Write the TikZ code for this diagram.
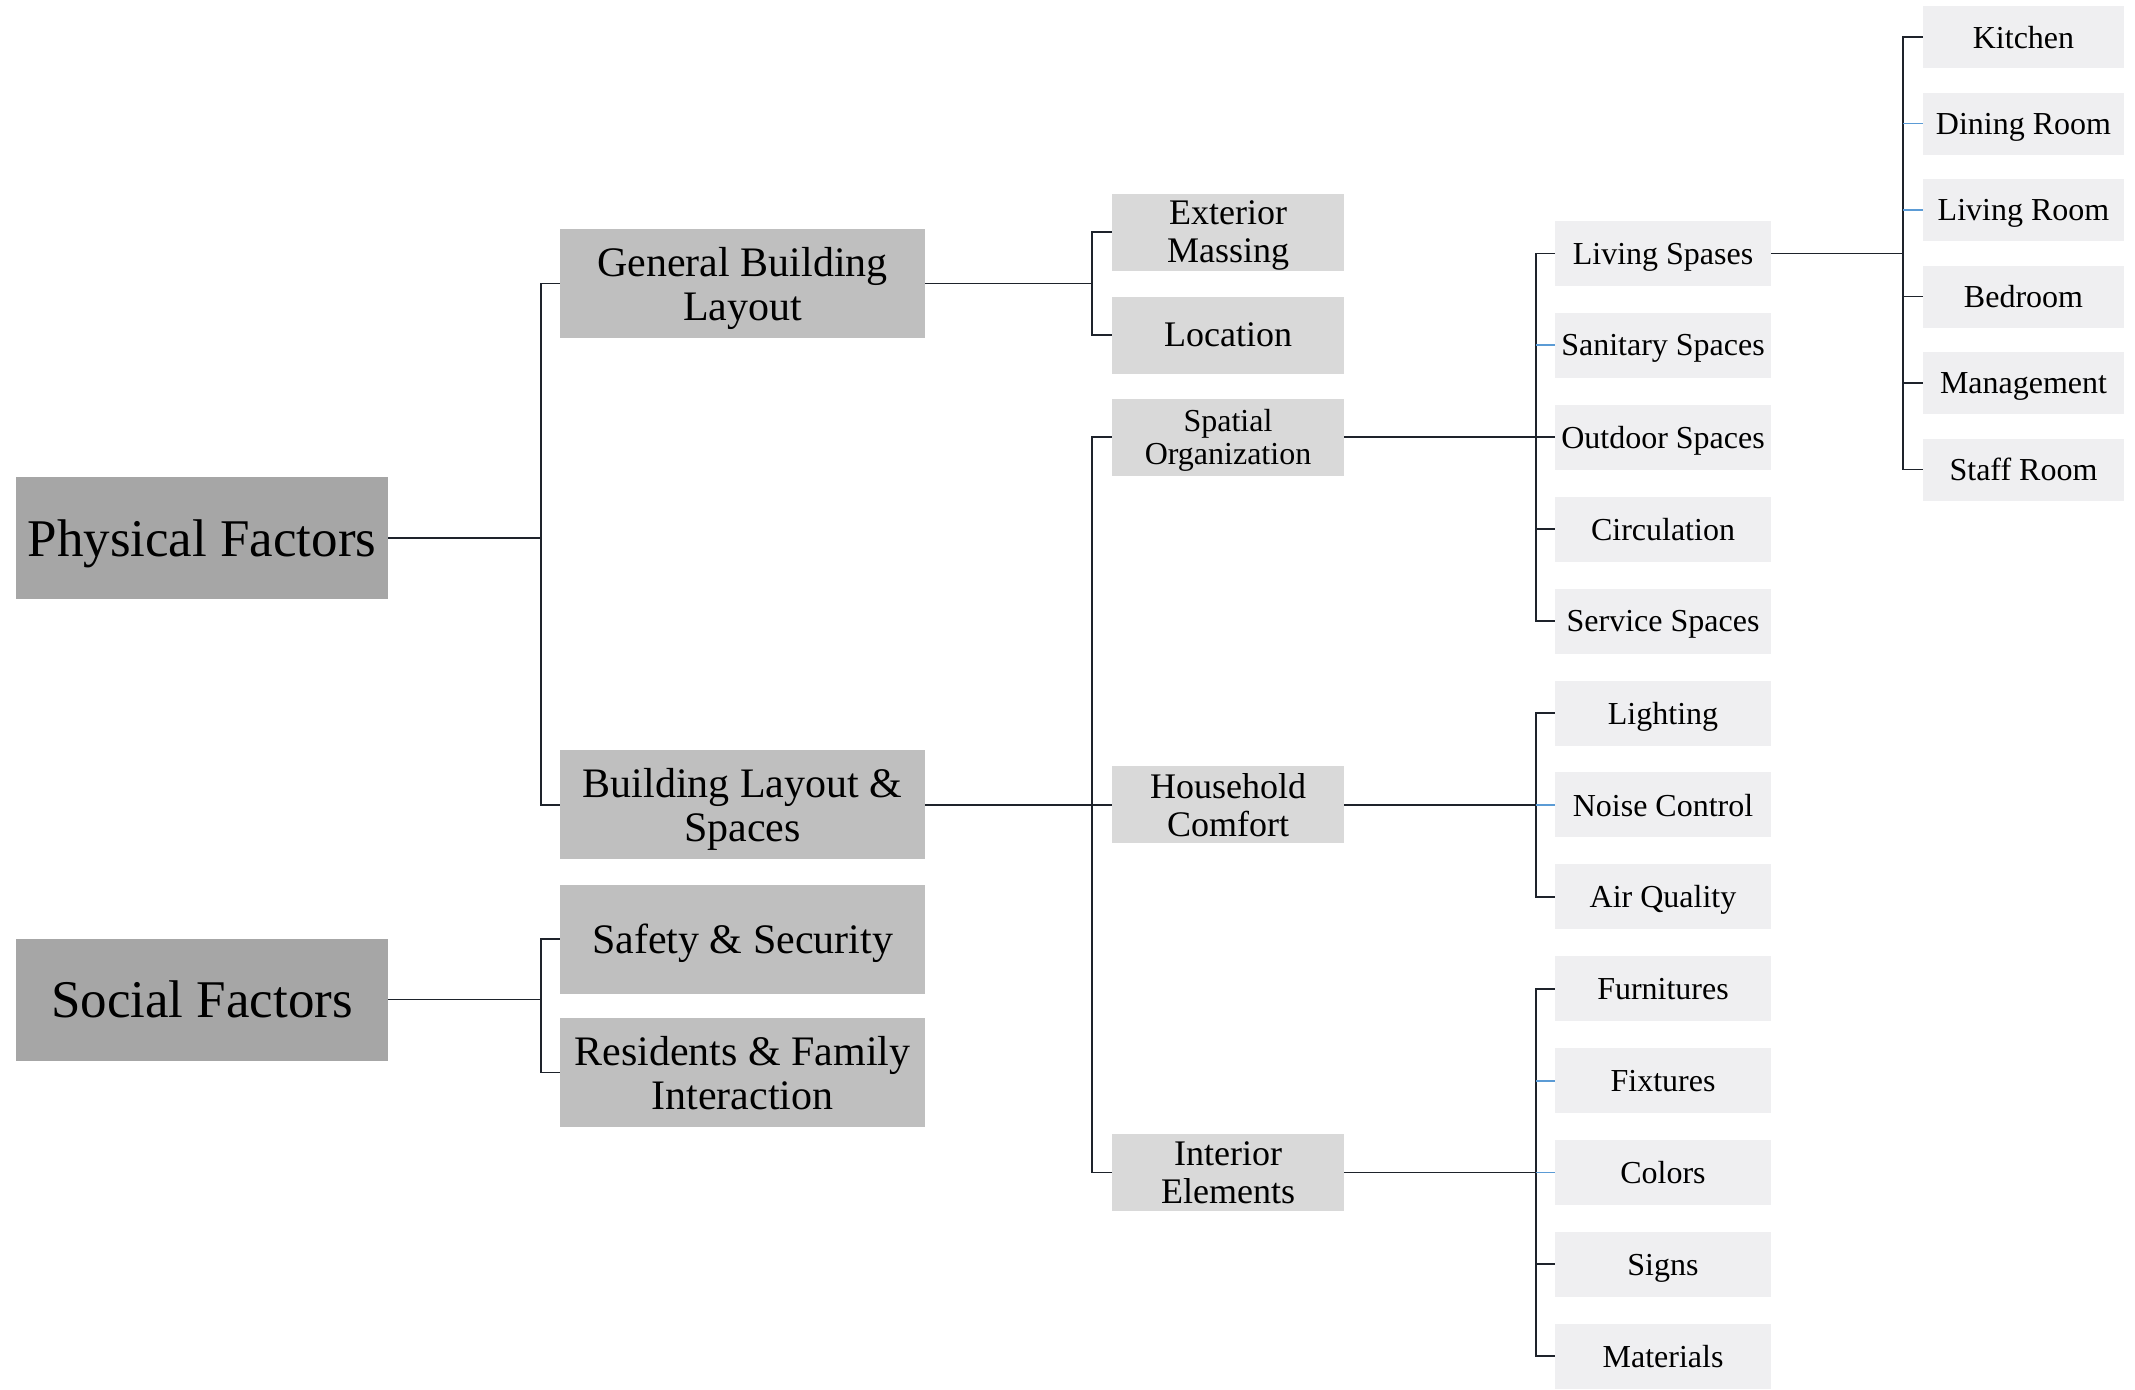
\documentclass[tikz,border=0pt]{standalone}
\usepackage{fontspec}
\setmainfont{Liberation Serif}
\definecolor{cone}{HTML}{A6A6A6}
\definecolor{ctwo}{HTML}{BFBFBF}
\definecolor{cthree}{HTML}{D9D9D9}
\definecolor{cfour}{HTML}{EFEFF1}
\definecolor{lnk}{HTML}{1E232B}
\definecolor{lnb}{HTML}{5B9BD5}
\tikzset{
  lone/.style={fill=cone, minimum width=372pt, minimum height=122pt, inner sep=0pt, text depth=0pt, font=\fontsize{53}{56}\selectfont},
  ltwo/.style={fill=ctwo, minimum width=365pt, minimum height=109pt, inner sep=0pt, text depth=0pt, align=center, font=\fontsize{42}{44}\selectfont},
  lthree/.style={fill=cthree, minimum width=232pt, minimum height=77pt, inner sep=0pt, text depth=0pt, align=center, font=\fontsize{36}{38}\selectfont},
  lthrees/.style={lthree, font=\fontsize{32}{33}\selectfont},
  lfour/.style={fill=cfour, minimum width=216pt, minimum height=65pt, inner sep=0pt, text depth=0pt, font=\fontsize{32}{34}\selectfont},
  lfive/.style={fill=cfour, minimum width=201pt, minimum height=62pt, inner sep=0pt, text depth=0pt, font=\fontsize{32}{34}\selectfont},
  conn/.style={draw=lnk, line width=1.9pt},
  connb/.style={draw=lnb, line width=1.9pt},
}
\begin{document}
\begin{tikzpicture}[x=1pt,y=-1pt]
\useasboundingbox (0,0) rectangle (2135,1389);
% bus coordinates
\coordinate (b1) at (541,0);
\coordinate (b2) at (1092,0);
\coordinate (b3) at (1536,0);
\coordinate (b4) at (1903,0);
% level 1
\node[lone] (PF) at (202,538) {Physical Factors};
\node[lone] (SF) at (202,999.5) {Social Factors};
% level 2
\node[ltwo] (GBL) at (742.5,283.5) {General Building\\Layout};
\node[ltwo] (BLS) at (742.5,804.9) {Building Layout \&\\Spaces};
\node[ltwo] (SS) at (742.5,939) {Safety \& Security};
\node[ltwo] (RF) at (742.5,1072.5) {Residents \& Family\\Interaction};
% level 3
\node[lthree] (EM) at (1228,232) {Exterior\\Massing};
\node[lthree] (LO) at (1228,335) {Location};
\node[lthrees] (SO) at (1228,437.3) {Spatial\\Organization};
\node[lthree] (HC) at (1228,804.9) {Household\\Comfort};
\node[lthree] (IE) at (1228,1172.5) {Interior\\Elements};
% level 4
\node[lfour] (LS) at (1663,253.5) {Living Spases};
\node[lfour] (SA) at (1663,345.4) {Sanitary Spaces};
\node[lfour] (OS) at (1663,437.3) {Outdoor Spaces};
\node[lfour] (CI) at (1663,529.2) {Circulation};
\node[lfour] (SE) at (1663,621.1) {Service Spaces};
\node[lfour] (LI) at (1663,713) {Lighting};
\node[lfour] (NC) at (1663,804.9) {Noise Control};
\node[lfour] (AQ) at (1663,896.8) {Air Quality};
\node[lfour] (FU) at (1663,988.7) {Furnitures};
\node[lfour] (FI) at (1663,1080.6) {Fixtures};
\node[lfour] (CO) at (1663,1172.5) {Colors};
\node[lfour] (SI) at (1663,1264.4) {Signs};
\node[lfour] (MA) at (1663,1356.3) {Materials};
% level 5
\node[lfive] (KI) at (2023.5,37) {Kitchen};
\node[lfive] (DR) at (2023.5,123.5) {Dining Room};
\node[lfive] (LR) at (2023.5,210) {Living Room};
\node[lfive] (BR) at (2023.5,296.5) {Bedroom};
\node[lfive] (MG) at (2023.5,383) {Management};
\node[lfive] (ST) at (2023.5,469.5) {Staff Room};
% connectors level 1 -> 2
\draw[conn] (PF.east) -- (PF.east -| b1);
\draw[conn] (GBL.west) -- (GBL.west -| b1) -- (BLS.west -| b1) -- (BLS.west);
\draw[conn] (SF.east) -- (SF.east -| b1);
\draw[conn] (SS.west) -- (SS.west -| b1) -- (RF.west -| b1) -- (RF.west);
% level 2 -> 3
\draw[conn] (GBL.east) -- (GBL.east -| b2);
\draw[conn] (EM.west) -- (EM.west -| b2) -- (LO.west -| b2) -- (LO.west);
\draw[conn] (BLS.east) -- (HC.west);
\draw[conn] (SO.west) -- (SO.west -| b2) -- (IE.west -| b2) -- (IE.west);
% level 3 -> 4
\draw[conn] (SO.east) -- (OS.west);
\draw[conn] (LS.west) -- (LS.west -| b3) -- (SE.west -| b3) -- (SE.west);
\draw[connb] (SA.west -| b3) -- (SA.west);
\draw[conn] (CI.west -| b3) -- (CI.west);
\draw[conn] (HC.east) -- (HC.east -| b3);
\draw[conn] (LI.west) -- (LI.west -| b3) -- (AQ.west -| b3) -- (AQ.west);
\draw[connb] (NC.west -| b3) -- (NC.west);
\draw[conn] (IE.east) -- (IE.east -| b3);
\draw[conn] (FU.west) -- (FU.west -| b3) -- (MA.west -| b3) -- (MA.west);
\draw[connb] (FI.west -| b3) -- (FI.west);
\draw[connb] (CO.west -| b3) -- (CO.west);
\draw[conn] (SI.west -| b3) -- (SI.west);
% level 4 -> 5
\draw[conn] (LS.east) -- (LS.east -| b4);
\draw[conn] (KI.west) -- (KI.west -| b4) -- (ST.west -| b4) -- (ST.west);
\draw[connb] (DR.west -| b4) -- (DR.west);
\draw[connb] (LR.west -| b4) -- (LR.west);
\draw[conn] (BR.west -| b4) -- (BR.west);
\draw[conn] (MG.west -| b4) -- (MG.west);
\end{tikzpicture}
\end{document}
